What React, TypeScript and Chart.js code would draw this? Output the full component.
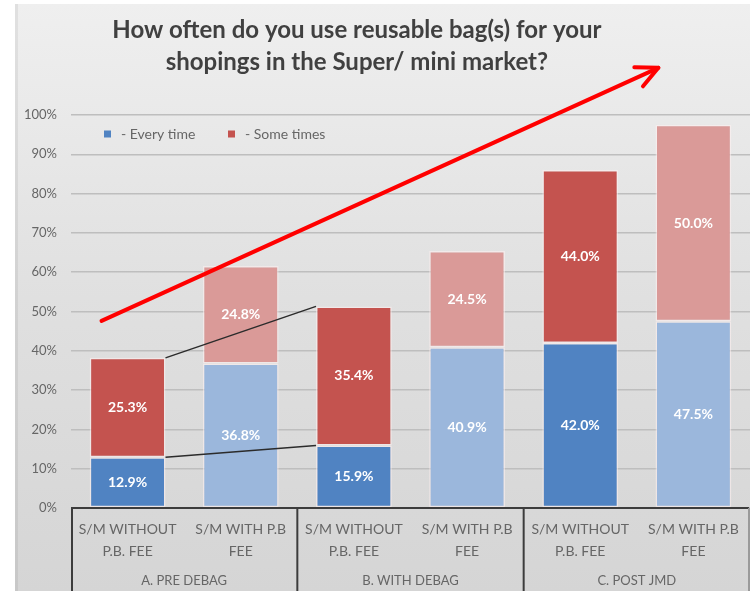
import React, { useEffect, useRef } from 'react';
import { Chart, registerables } from 'chart.js';

Chart.register(...registerables);

// ---------- data ----------
const titleLines = ['How often do you use reusable bag(s) for your', 'shopings in the Super/ mini market?'];
const categories = [
  ['S/M WITHOUT', 'P.B. FEE'],
  ['S/M WITH P.B', 'FEE'],
  ['S/M WITHOUT', 'P.B. FEE'],
  ['S/M WITH P.B', 'FEE'],
  ['S/M WITHOUT', 'P.B. FEE'],
  ['S/M WITH P.B', 'FEE'],
];
const groups = ['A. PRE DEBAG', 'B. WITH DEBAG', 'C. POST JMD'];
const seriesNames = ['- Every time', '- Some times'];
const everyTime = [12.9, 36.8, 15.9, 40.9, 42.0, 47.5];
const someTimes = [25.3, 24.8, 35.4, 24.5, 44.0, 50.0];
const yMax = 100;
const yStep = 10;
// trend arrow in data space: [category index, value]
const arrowFrom = [-0.23, 47.6];
const arrowTo = [4.69, 112];

// ---------- styles ----------
const DARK_BLUE = '#5083C2';
const LIGHT_BLUE = '#9BB7DC';
const DARK_RED = '#C4534F';
const LIGHT_RED = '#DA9A98';
const FONT = 'Lato, "Open Sans", sans-serif';
const TEXT_GRAY = '#666666';

const everyColors = everyTime.map((_, i) => (i % 2 === 0 ? DARK_BLUE : LIGHT_BLUE));
const someColors = someTimes.map((_, i) => (i % 2 === 0 ? DARK_RED : LIGHT_RED));

const panelPlugin = {
  id: 'panelBg',
  beforeDraw(chart: any) {
    const { ctx, width, height } = chart;
    ctx.save();
    ctx.fillStyle = '#ffffff';
    ctx.fillRect(0, 0, width, height);
    const g = ctx.createLinearGradient(0, 4, 0, height);
    g.addColorStop(0, '#EFEFEF');
    g.addColorStop(0.5, '#E0E0E0');
    g.addColorStop(1, '#D5D5D5');
    ctx.fillStyle = g;
    ctx.fillRect(15, 4, width - 20, height - 4);
    ctx.fillStyle = 'rgba(0,0,0,0.06)';
    ctx.fillRect(15, 4, 3, height - 4);
    ctx.restore();
  },
};

const labelsPlugin = {
  id: 'overlay',
  afterDatasetsDraw(chart: any) {
    const { ctx } = chart;
    ctx.save();
    // segment value labels
    ctx.font = `bold 14px ${FONT}`;
    ctx.fillStyle = '#ffffff';
    ctx.textAlign = 'center';
    ctx.textBaseline = 'middle';
    chart.data.datasets.forEach((ds: any, di: number) => {
      const meta = chart.getDatasetMeta(di);
      meta.data.forEach((bar: any, i: number) => {
        const p = bar.getProps(['x', 'y', 'base'], true);
        ctx.fillText(ds.data[i].toFixed(1) + '%', p.x, (p.y + p.base) / 2);
      });
    });
    // series connector lines between bar 0 and bar 2
    ctx.strokeStyle = '#2b2b2b';
    ctx.lineWidth = 1.5;
    chart.data.datasets.forEach((_: any, di: number) => {
      const meta = chart.getDatasetMeta(di);
      const a = meta.data[0].getProps(['x', 'y', 'width'], true);
      const b = meta.data[2].getProps(['x', 'y', 'width'], true);
      ctx.beginPath();
      ctx.moveTo(a.x + a.width / 2, a.y);
      ctx.lineTo(b.x - b.width / 2, b.y);
      ctx.stroke();
    });
    ctx.restore();
  },
  afterDraw(chart: any) {
    const { ctx, chartArea, height } = chart;
    const xs = chart.scales.x;
    const ys = chart.scales.y;
    ctx.save();
    // title
    ctx.font = `bold 24px ${FONT}`;
    ctx.fillStyle = '#404040';
    ctx.textAlign = 'center';
    ctx.textBaseline = 'middle';
    const tcx = chartArea.left + chartArea.width * 0.421;
    titleLines.forEach((t, i) => ctx.fillText(t, tcx, 30 + i * 32));

    // legend
    ctx.font = `14px ${FONT}`;
    ctx.textAlign = 'left';
    ctx.fillStyle = TEXT_GRAY;
    const ly = chartArea.top + 19;
    let lx = chartArea.left + 33;
    [DARK_BLUE, DARK_RED].forEach((c, i) => {
      ctx.fillStyle = c;
      ctx.fillRect(lx, ly - 3.5, 7, 7);
      ctx.fillStyle = TEXT_GRAY;
      ctx.fillText(seriesNames[i], lx + 17, ly);
      lx += 124;
    });

    // x-axis box
    const top = chartArea.bottom;
    const left = chartArea.left + 1;
    const right = chartArea.right - 1;
    ctx.strokeStyle = '#3c3c3c';
    ctx.lineWidth = 2;
    ctx.beginPath();
    ctx.moveTo(left, height + 2);
    ctx.lineTo(left, top);
    ctx.lineTo(right, top);
    ctx.stroke();
    for (let gi = 1; gi < groups.length; gi++) {
      const dx = (xs.getPixelForValue(gi * 2 - 1) + xs.getPixelForValue(gi * 2)) / 2;
      ctx.beginPath();
      ctx.moveTo(dx, top);
      ctx.lineTo(dx, height + 2);
      ctx.stroke();
    }
    ctx.strokeStyle = '#9a9a9a';
    ctx.beginPath();
    ctx.moveTo(right, top);
    ctx.lineTo(right, height + 2);
    ctx.stroke();
    // group labels
    ctx.font = `13px ${FONT}`;
    ctx.fillStyle = TEXT_GRAY;
    ctx.textAlign = 'center';
    groups.forEach((g, gi) => {
      const cx = (xs.getPixelForValue(gi * 2) + xs.getPixelForValue(gi * 2 + 1)) / 2;
      ctx.fillText(g, cx, top + 73);
    });

    // red trend arrow
    const x0 = xs.getPixelForValue(arrowFrom[0]);
    const y0 = ys.getPixelForValue(arrowFrom[1]);
    const x1 = xs.getPixelForValue(arrowTo[0]);
    const y1 = ys.getPixelForValue(arrowTo[1]);
    ctx.strokeStyle = '#FF0000';
    ctx.lineWidth = 4;
    ctx.lineCap = 'round';
    ctx.lineJoin = 'round';
    ctx.beginPath();
    ctx.moveTo(x0, y0);
    ctx.lineTo(x1, y1);
    ctx.stroke();
    const ang = Math.atan2(y0 - y1, x0 - x1);
    const hl = 24;
    const spread = 0.45;
    ctx.beginPath();
    ctx.moveTo(x1 + hl * Math.cos(ang - spread), y1 + hl * Math.sin(ang - spread));
    ctx.lineTo(x1, y1);
    ctx.lineTo(x1 + hl * Math.cos(ang + spread), y1 + hl * Math.sin(ang + spread));
    ctx.stroke();
    ctx.restore();
  },
};

export default function App() {
  const ref = useRef<HTMLCanvasElement>(null);
  useEffect(() => {
    if (!ref.current) return;
    const chart = new Chart(ref.current, {
      type: 'bar',
      data: {
        labels: categories,
        datasets: [
          {
            label: seriesNames[0],
            data: everyTime,
            backgroundColor: everyColors,
            borderColor: 'rgba(255,240,240,0.55)',
            borderWidth: 1.5,
            borderSkipped: false,
          },
          {
            label: seriesNames[1],
            data: someTimes,
            backgroundColor: someColors,
            borderColor: 'rgba(255,240,240,0.55)',
            borderWidth: 1.5,
            borderSkipped: false,
          },
        ],
      },
      options: {
        responsive: false,
        animation: false,
        layout: { padding: { top: 115, left: 15, right: 5, bottom: 0 } },
        datasets: { bar: { categoryPercentage: 1, barPercentage: 0.67 } },
        plugins: {
          legend: { display: false },
          title: { display: false },
          tooltip: { enabled: false },
        },
        scales: {
          x: {
            stacked: true,
            grid: { display: false, drawTicks: false },
            border: { display: false },
            ticks: {
              padding: 11,
              color: TEXT_GRAY,
              font: { family: FONT, size: 14, lineHeight: 1.55 },
              maxRotation: 0,
              autoSkip: false,
            },
            afterFit(scale: any) {
              scale.height = 83;
            },
          },
          y: {
            stacked: true,
            min: 0,
            max: yMax,
            grid: { color: '#BEBEBE', lineWidth: 1.5, drawTicks: false },
            border: { display: false },
            ticks: {
              stepSize: yStep,
              padding: 14,
              color: TEXT_GRAY,
              font: { family: FONT, size: 13 },
              callback: (v: any) => v + '%',
            },
            afterFit(scale: any) {
              scale.width = 56;
            },
          },
        },
      },
      plugins: [panelPlugin, labelsPlugin],
    });
    return () => chart.destroy();
  }, []);
  return (
    <div style={{ position: 'absolute', left: 0, top: 0, width: 755, height: 591 }}>
      <canvas ref={ref} width={755} height={591} />
    </div>
  );
}
